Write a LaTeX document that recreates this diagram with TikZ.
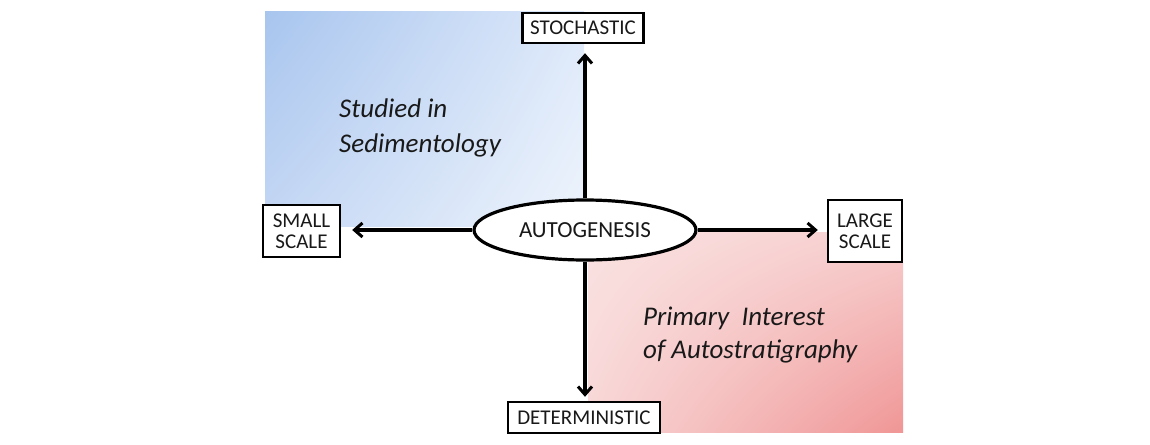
\documentclass[tikz,border=0pt]{standalone}
\usepackage{fontspec}
\setmainfont{Carlito}
\usetikzlibrary{shapes.geometric,arrows.meta,shadings}
\definecolor{bUL}{RGB}{168,197,238}
\definecolor{bUR}{RGB}{222,233,250}
\definecolor{bLL}{RGB}{196,215,244}
\definecolor{bLR}{RGB}{238,244,252}
\definecolor{pUL}{RGB}{250,226,226}
\definecolor{pUR}{RGB}{247,206,206}
\definecolor{pLL}{RGB}{248,214,214}
\definecolor{pLR}{RGB}{240,150,150}
\definecolor{ink}{RGB}{25,25,25}
\tikzset{
  lbl/.style={draw=black, line width=2.4pt, fill=white, align=center, inner sep=2pt,
    text=ink, font=\fontsize{21}{21}\selectfont},
  arr/.style={line width=3.4pt, -{Straight Barb[length=8pt,width=14pt,line width=3pt]}},
  region/.style={font=\itshape\fontsize{27}{33}\selectfont, text=ink, anchor=base west, inner sep=0pt}
}
\begin{document}
\begin{tikzpicture}[x=1pt,y=-1pt]
\useasboundingbox (0,0) rectangle (1150,444);
\shade[upper left=bUL, upper right=bUR, lower left=bLL, lower right=bLR] (265,12) rectangle (584,226);
\shade[upper left=pUL, upper right=pUR, lower left=pLL, lower right=pLR] (588,232) rectangle (903,432);
\node[region] (sed1) at (339,117) {Studied in};
\node[region] (sed2) at (339,152) {Sedimentology};
\node[region] (auto1) at (643,325) {Primary~ Interest};
\node[region] (auto2) at (643,358) {of Autostratigraphy};
\node[draw=black, line width=3.2pt, fill=white, ellipse, minimum width=222pt, minimum height=60pt,
  text=ink, font=\fontsize{23}{25}\selectfont] (ag) at (585,230) {AUTOGENESIS};
\node[lbl, minimum width=121pt, minimum height=30pt] (sto) at (583,28) {STOCHASTIC};
\node[lbl, minimum width=152pt, minimum height=31pt] (det) at (584,417.5) {DETERMINISTIC};
\node[lbl, minimum width=77pt, minimum height=52pt] (sm) at (301.5,231) {SMALL\\SCALE};
\node[lbl, minimum width=74pt, minimum height=62pt] (lg) at (865,231) {LARGE\\SCALE};
\draw[arr, shorten >=9pt] (ag.north) -- (ag.north |- sto.south);
\draw[arr, shorten >=4pt] (ag.south) -- (ag.south |- det.north);
\draw[arr, shorten >=11pt] (ag.west) -- (ag.west -| sm.east);
\draw[arr, shorten >=9pt] (ag.east) -- (ag.east -| lg.west);
\end{tikzpicture}
\end{document}
